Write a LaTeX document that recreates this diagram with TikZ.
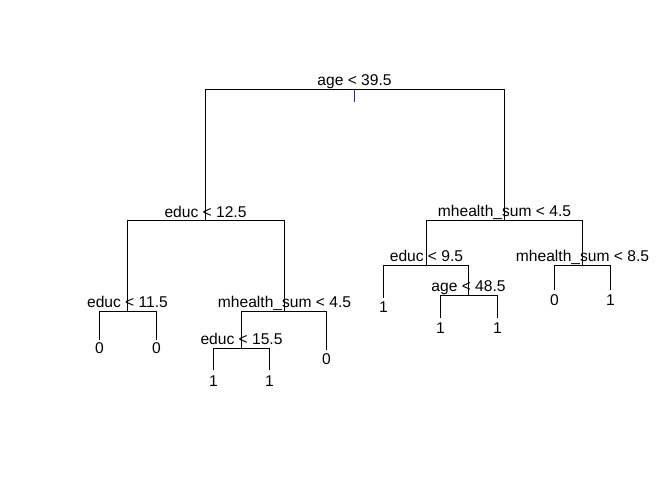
\documentclass[tikz,border=0pt]{standalone}
\usepackage{fontspec}
\setmainfont{Liberation Sans}
\definecolor{tickcol}{RGB}{45,35,165}
\begin{document}
\begin{tikzpicture}[x=0.75pt,y=-0.75pt,
  edge/.style={draw=black,line width=0.75pt},
  splitlab/.style={anchor=base,inner sep=0pt,font=\fontsize{11.7}{13}\selectfont,text=black},
  leaflab/.style={anchor=north,inner sep=0pt,font=\fontsize{11.7}{13}\selectfont,text=black}]
\useasboundingbox[fill=white] (0,0) rectangle (672,480);
% split coordinates (position of each split's horizontal bar)
\coordinate (root) at (354.5,89.5);
\coordinate (e125) at (205.5,220.5);
\coordinate (m45r) at (504.5,220.5);
\coordinate (e115) at (127.5,311.5);
\coordinate (m45l) at (284.5,311.5);
\coordinate (e155) at (241.5,348.5);
\coordinate (e95) at (426.5,265.5);
\coordinate (a485) at (468.5,295.5);
\coordinate (m85) at (582.5,265.5);
% leaf end points
\coordinate (l1) at (99.5,340);
\coordinate (l2) at (156.5,340);
\coordinate (l3) at (213.5,370);
\coordinate (l4) at (269.5,370);
\coordinate (l5) at (326.5,350);
\coordinate (l6) at (383.5,298);
\coordinate (l7) at (440.5,318);
\coordinate (l8) at (497.5,318);
\coordinate (l9) at (554.5,290);
\coordinate (l10) at (610.5,290);
% connectors
\draw[edge] (e125) -- (e125 |- root) -- (m45r |- root) -- (m45r);
\draw[edge] (e115) -- (e115 |- e125) -- (m45l |- e125) -- (m45l);
\draw[edge] (l1) -- (l1 |- e115) -- (l2 |- e115) -- (l2);
\draw[edge] (e155) -- (e155 |- m45l) -- (l5 |- m45l) -- (l5);
\draw[edge] (l3) -- (l3 |- e155) -- (l4 |- e155) -- (l4);
\draw[edge] (e95) -- (e95 |- m45r) -- (m85 |- m45r) -- (m85);
\draw[edge] (l6) -- (l6 |- e95) -- (a485 |- e95) -- (a485);
\draw[edge] (l7) -- (l7 |- a485) -- (l8 |- a485) -- (l8);
\draw[edge] (l9) -- (l9 |- m85) -- (l10 |- m85) -- (l10);
\draw[draw=tickcol,line width=0.9pt] (root) -- ++(0,12.5);
% split labels
\node[splitlab] (troot) at ([yshift=2.8pt]root) {age < 39.5};
\node[splitlab] (te125) at ([yshift=2.6pt]e125) {educ < 12.5};
\node[splitlab] (tm45r) at ([yshift=3pt]m45r) {mhealth\_sum < 4.5};
\node[splitlab] (te115) at ([yshift=3pt]e115) {educ < 11.5};
\node[splitlab] (tm45l) at ([yshift=3pt]m45l) {mhealth\_sum < 4.5};
\node[splitlab] (te155) at ([yshift=3pt]e155) {educ < 15.5};
\node[splitlab] (te95) at ([yshift=3pt]e95) {educ < 9.5};
\node[splitlab] (ta485) at ([yshift=3pt]a485) {age < 48.5};
\node[splitlab] (tm85) at ([yshift=3pt]m85) {mhealth\_sum < 8.5};
% leaf labels
\node[leaflab] (t1) at ([yshift=-1.8pt]l1) {0};
\node[leaflab] (t2) at ([yshift=-1.8pt]l2) {0};
\node[leaflab] (t3) at ([yshift=-4.2pt]l3) {1};
\node[leaflab] (t4) at ([yshift=-4.2pt]l4) {1};
\node[leaflab] (t5) at ([yshift=-2.4pt]l5) {0};
\node[leaflab] (t6) at ([yshift=-2.4pt]l6) {1};
\node[leaflab] (t7) at ([yshift=-3.6pt]l7) {1};
\node[leaflab] (t8) at ([yshift=-3.6pt]l8) {1};
\node[leaflab] (t9) at ([yshift=-3.6pt]l9) {0};
\node[leaflab] (t10) at ([yshift=-3.6pt]l10) {1};
\end{tikzpicture}
\end{document}
